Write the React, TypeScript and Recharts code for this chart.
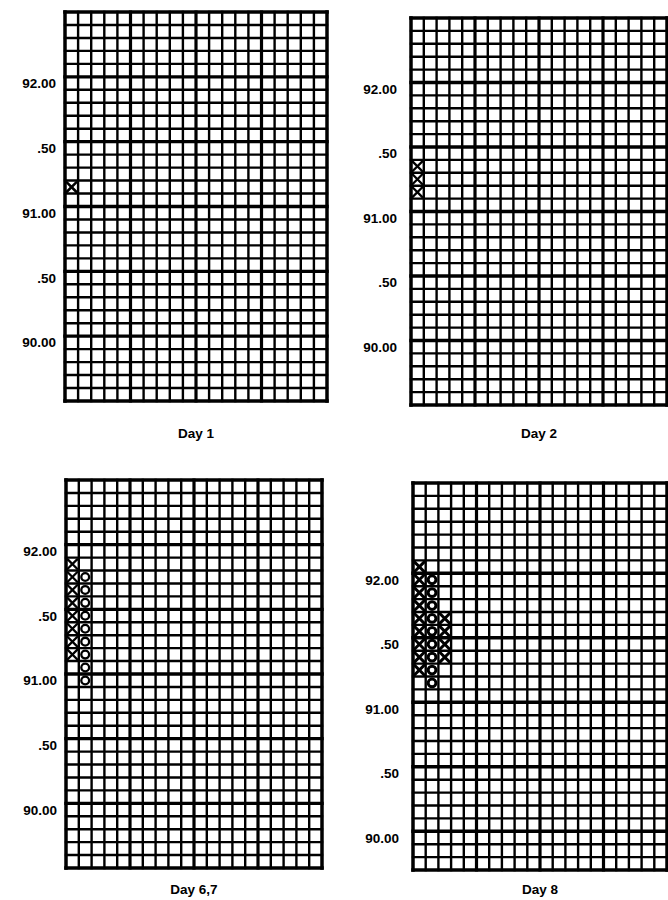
import { ScatterChart, Scatter, XAxis, YAxis, ReferenceLine } from "recharts";

interface Tpo {
  col: number;
  price: number;
}

// price scale labels shown on every panel
const priceTicks = [92, 91.5, 91, 90.5, 90];
const priceLabels = ["92.00", ".50", "91.00", ".50", "90.00"];

// Day 1
const day1X: Tpo[] = [{ col: 0, price: 91.2 }];

// Day 2
const day2X: Tpo[] = [
  { col: 0, price: 91.4 },
  { col: 0, price: 91.3 },
  { col: 0, price: 91.2 },
];

// Day 6,7
const day67X: Tpo[] = [
  { col: 0, price: 91.9 },
  { col: 0, price: 91.8 },
  { col: 0, price: 91.7 },
  { col: 0, price: 91.6 },
  { col: 0, price: 91.5 },
  { col: 0, price: 91.4 },
  { col: 0, price: 91.3 },
  { col: 0, price: 91.2 },
];
const day67O: Tpo[] = [
  { col: 1, price: 91.8 },
  { col: 1, price: 91.7 },
  { col: 1, price: 91.6 },
  { col: 1, price: 91.5 },
  { col: 1, price: 91.4 },
  { col: 1, price: 91.3 },
  { col: 1, price: 91.2 },
  { col: 1, price: 91.1 },
  { col: 1, price: 91.0 },
];

// Day 8
const day8X: Tpo[] = [
  { col: 0, price: 92.1 },
  { col: 0, price: 92.0 },
  { col: 0, price: 91.9 },
  { col: 0, price: 91.8 },
  { col: 0, price: 91.7 },
  { col: 0, price: 91.6 },
  { col: 0, price: 91.5 },
  { col: 0, price: 91.4 },
  { col: 0, price: 91.3 },
  { col: 2, price: 91.7 },
  { col: 2, price: 91.6 },
  { col: 2, price: 91.5 },
  { col: 2, price: 91.4 },
];
const day8O: Tpo[] = [
  { col: 1, price: 92.0 },
  { col: 1, price: 91.9 },
  { col: 1, price: 91.8 },
  { col: 1, price: 91.7 },
  { col: 1, price: 91.6 },
  { col: 1, price: 91.5 },
  { col: 1, price: 91.4 },
  { col: 1, price: 91.3 },
  { col: 1, price: 91.2 },
];

const FONT = "'Liberation Sans', Arial, sans-serif";
const AXIS_W = 70;

interface PanelLayout {
  title: string;
  gridLeft: number;
  gridTop: number;
  gridW: number;
  gridH: number;
  topPrice: number;
  labelGap: number;
  titleY: number;
  markW: number;
  xs: Tpo[];
  os: Tpo[];
}

const XMark = (props: any) => {
  const { cx, cy, w } = props;
  const h = 4.7;
  return (
    <g stroke="#000" strokeWidth={w} strokeLinecap="round">
      <line x1={cx - h} y1={cy - h} x2={cx + h} y2={cy + h} />
      <line x1={cx - h} y1={cy + h} x2={cx + h} y2={cy - h} />
    </g>
  );
};

const OMark = (props: any) => {
  const { cx, cy, w } = props;
  return <circle cx={cx} cy={cy} r={3.9} fill="none" stroke="#000" strokeWidth={w} />;
};

const GridPanel = ({ p }: { p: PanelLayout }) => {
  const rows = Array.from({ length: 31 }, (_, k) => +(p.topPrice + 0.05 - 0.1 * k).toFixed(2));
  const cols = Array.from({ length: 21 }, (_, k) => k - 0.5);
  const heavyRows = priceTicks.map((t) => +(t + 0.05).toFixed(2));
  const chartW = AXIS_W + p.gridW + 4;
  const chartH = 4 + p.gridH + 40;
  const titleOffset = p.gridTop + p.gridH + 40 - (p.titleY + 5);

  return (
    <div style={{ position: "absolute", left: p.gridLeft - AXIS_W, top: p.gridTop - 4 }}>
      <ScatterChart
        width={chartW}
        height={chartH}
        margin={{ top: 4, right: 4, left: 0, bottom: 0 }}
      >
        <XAxis
          type="number"
          dataKey="col"
          domain={[-0.5, 19.5]}
          allowDataOverflow
          tick={false}
          tickLine={false}
          axisLine={false}
          height={40}
          label={{
            value: p.title,
            position: "insideBottom",
            offset: titleOffset,
            fill: "#000",
            fontSize: 13.5,
            fontWeight: 700,
            fontFamily: FONT,
          }}
        />
        <YAxis
          type="number"
          dataKey="price"
          domain={[rows[30], rows[0]]}
          allowDataOverflow
          ticks={priceTicks}
          interval={0}
          width={AXIS_W}
          tickLine={false}
          axisLine={false}
          tickSize={0}
          tickMargin={p.labelGap}
          tickFormatter={(v: number) => priceLabels[priceTicks.indexOf(v)]}
          tick={{ fill: "#000", fontSize: 13.5, fontWeight: 700, fontFamily: FONT }}
        />
        {rows.map((r, k) => (
          <ReferenceLine
            key={"r" + k}
            y={r}
            ifOverflow="visible"
            stroke="#000"
            strokeLinecap="square"
            strokeWidth={k === 0 || k === 30 ? 3.5 : heavyRows.includes(r) ? 3.4 : 2.4}
          />
        ))}
        {cols.map((c, k) => (
          <ReferenceLine
            key={"c" + k}
            x={c}
            ifOverflow="visible"
            stroke="#000"
            strokeLinecap="square"
            strokeWidth={k === 0 || k === 20 ? 3.5 : k % 5 === 0 ? 3.2 : 2.4}
          />
        ))}
        <Scatter
          data={p.xs}
          isAnimationActive={false}
          shape={(s: any) => <XMark cx={s.cx} cy={s.cy} w={p.markW} />}
        />
        <Scatter
          data={p.os}
          isAnimationActive={false}
          shape={(s: any) => <OMark cx={s.cx} cy={s.cy} w={p.markW} />}
        />
      </ScatterChart>
    </div>
  );
};

const panels: PanelLayout[] = [
  { title: "Day 1", gridLeft: 65, gridTop: 12, gridW: 262, gridH: 389, topPrice: 92.5, labelGap: 9, titleY: 433, markW: 2.6, xs: day1X, os: [] },
  { title: "Day 2", gridLeft: 411, gridTop: 18, gridW: 256, gridH: 387, topPrice: 92.5, labelGap: 14, titleY: 433, markW: 2.3, xs: day2X, os: [] },
  { title: "Day 6,7", gridLeft: 66, gridTop: 480, gridW: 256, gridH: 388, topPrice: 92.5, labelGap: 9, titleY: 889, markW: 2.3, xs: day67X, os: day67O },
  { title: "Day 8", gridLeft: 413, gridTop: 483, gridW: 254, gridH: 387, topPrice: 92.7, labelGap: 14, titleY: 889, markW: 3, xs: day8X, os: day8O },
];

export default function App() {
  return (
    <div
      style={{
        position: "absolute",
        left: 0,
        top: 0,
        width: 668,
        height: 900,
        overflow: "hidden",
        background: "#fff",
        fontFamily: FONT,
      }}
    >
      {panels.map((p) => (
        <GridPanel key={p.title} p={p} />
      ))}
    </div>
  );
}
